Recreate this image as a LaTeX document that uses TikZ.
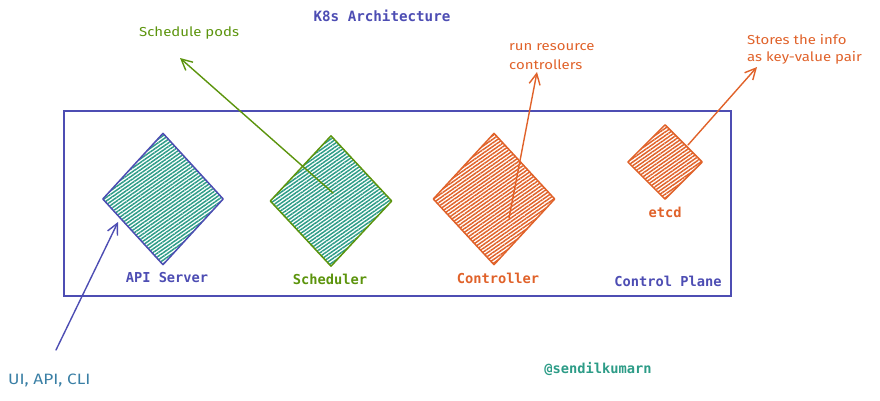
\documentclass[tikz,border=0pt]{standalone}
\usepackage{fontspec}
\setmonofont{DejaVu Sans Mono}
\newfontfamily\handfont[FakeStretch=1.15]{Fira Sans}
\usetikzlibrary{shapes.geometric,patterns.meta,arrows.meta}
\definecolor{kblue}{HTML}{4D4DB3}
\definecolor{kteal}{HTML}{2D9C87}
\definecolor{korange}{HTML}{E0622A}
\definecolor{kgreen}{HTML}{5C940D}
\definecolor{kui}{HTML}{3A7FA5}
\tikzset{
  dia/.style={diamond, inner sep=0pt, line width=1.5pt, line join=round},
  hatch/.style={pattern={Lines[angle=35,distance=3pt,line width=1.5pt]}, pattern color=#1},
  monolbl/.style={font=\ttfamily\fontsize{13.7}{15}\selectfont\bfseries, inner sep=0pt},
  handlbl/.style={font=\handfont\fontsize{13}{18}\selectfont, inner sep=0pt, align=left},
  sketcharrow/.style={line width=1.4pt, line cap=round, -{Straight Barb[length=11pt,width=11pt,line width=1.4pt]}},
}
\begin{document}
\begin{tikzpicture}[x=1pt,y=-1pt]
\useasboundingbox (0,0) rectangle (880,400);
% frame
\node[draw=kblue, line width=1.9pt, minimum width=667pt, minimum height=185pt, inner sep=0pt] (plane) at (397.5,203.5) {};
% diamonds
\node[dia, draw=kblue, hatch=kteal, minimum width=121pt, minimum height=132pt] (api) at (163,199) {};
\node[dia, draw=kgreen, hatch=kteal, minimum width=122pt, minimum height=131pt] (sched) at (331,201) {};
\node[dia, draw=korange, hatch=korange, minimum width=122pt, minimum height=132pt] (ctrl) at (494,199) {};
\node[dia, draw=korange, hatch=korange, minimum width=75pt, minimum height=75pt] (etcd) at (665,162) {};
% labels
\node[monolbl, text=kblue, font=\ttfamily\fontsize{14.2}{16}\selectfont\bfseries] (title) at (382,16) {K8s Architecture};
\node[monolbl, text=kblue] (apil) at (167,278) {API Server};
\node[monolbl, text=kgreen] (schedl) at (330,279) {Scheduler};
\node[monolbl, text=korange] (ctrll) at (498,278) {Controller};
\node[monolbl, text=kblue] (cpl) at (668,281) {Control Plane};
\node[monolbl, text=korange] (etcdl) at (665,212) {etcd};
\node[monolbl, text=kteal] (author) at (598,369) {@sendilkumarn};
% annotations
\node[handlbl, text=kgreen, anchor=west] (schedn) at (139,33) {Schedule pods};
\node[handlbl, text=korange, anchor=west] (ctrln1) at (509,47) {run resource};
\node[handlbl, text=korange, anchor=west] (ctrln2) at (509,65) {controllers};
\node[handlbl, text=korange, anchor=west] (etcdn1) at (747,40) {Stores the info};
\node[handlbl, text=korange, anchor=west] (etcdn2) at (747,58) {as key-value pair};
\node[handlbl, text=kui, anchor=west, font=\handfont\fontsize{15}{18}\selectfont] (uin) at (8,380) {UI, API, CLI};
% arrow ends
\coordinate (schedfrom) at (333,193);
\coordinate (schedto) at (180,58);
\coordinate (ctrlfrom) at (509,218);
\coordinate (ctrlto) at (537,72);
\coordinate (etcdfrom) at (688,145);
\coordinate (etcdto) at (757,67);
\coordinate (uifrom) at (56,350);
\coordinate (uito) at (118,222);
% arrows
\draw[sketcharrow, kgreen] (schedfrom) -- (schedto);
\draw[sketcharrow, korange] (ctrlfrom) -- (ctrlto);
\draw[sketcharrow, korange] (etcdfrom) -- (etcdto);
\draw[sketcharrow, kblue] (uifrom) -- (uito);
\end{tikzpicture}
\end{document}
